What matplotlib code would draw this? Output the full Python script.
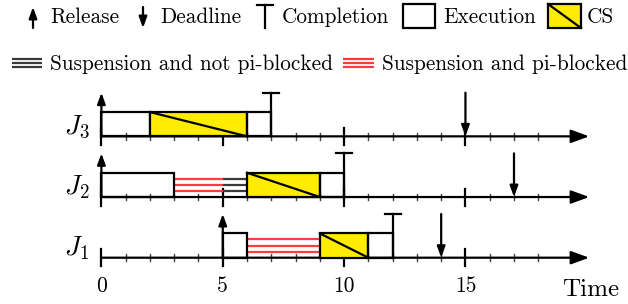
import matplotlib.pyplot as plt
from matplotlib.patches import Rectangle

plt.rcParams['mathtext.fontset'] = 'cm'
TEXT_FONT = ['cmr10', 'DejaVu Serif']

# ===== DATA =====
jobs = ['$J_1$', '$J_2$', '$J_3$']
release = [5, 0, 0]
deadline = [14, 17, 15]
completion = [12, 10, 7]
# (start, end, kind) per job
segments = [
    [(5, 6, 'exec'), (6, 9, 'susp_pi'), (9, 11, 'cs'), (11, 12, 'exec')],
    [(0, 3, 'exec'), (3, 5, 'susp_pi'), (5, 6, 'susp'), (6, 9, 'cs'), (9, 10, 'exec')],
    [(0, 2, 'exec'), (2, 6, 'cs'), (6, 7, 'exec')],
]
tick_times = list(range(19))
tick_labels = {0: '0', 5: '5', 10: '10', 15: '15'}

YELLOW = '#ffec00'
RED = '#ff3b3b'
DARK = '#3a3a3a'
LW = 1.6
FS = 15.3

# ===== FIGURE =====
fig = plt.figure(figsize=(6.28, 3.04), dpi=100)
u = 24.27  # pixels per time unit
ax = fig.add_axes([0, 0, 1, 1])
ax.set_xlim(-101.4 / u, (628 - 101.4) / u)
ax.set_ylim((257.7 - 304) / u, 257.7 / u)
ax.axis('off')

row_gap = 2.5
box_h = 1.0
arrow_h = 1.8


def arrow(a, x0, y0, x1, y1, scale=12, hl=0.55, hw=0.2, lw=LW):
    a.annotate('', xy=(x1, y1), xytext=(x0, y0),
               arrowprops=dict(arrowstyle=f'-|>,head_length={hl},head_width={hw}',
                               lw=lw, color='black', mutation_scale=scale,
                               shrinkA=0, shrinkB=0))


for i, job in enumerate(jobs):
    base = i * row_gap

    # time axis with ticks
    arrow(ax, 0, base, 20.1, base, scale=20, hl=0.55, hw=0.2)
    for t in tick_times:
        if t % 5 == 0:
            ax.plot([t, t], [base - 0.35, base + 0.35], color='black', lw=LW)
        else:
            ax.plot([t, t], [base - 0.14, base + 0.14], color='#444444', lw=1.0)

    # execution segments
    for s, e, kind in segments[i]:
        if kind == 'exec':
            ax.add_patch(Rectangle((s, base), e - s, box_h, facecolor='none',
                                   edgecolor='black', lw=LW, zorder=3))
        elif kind == 'cs':
            ax.add_patch(Rectangle((s, base), e - s, box_h, facecolor=YELLOW,
                                   edgecolor='black', lw=LW, zorder=3))
            ax.plot([s, e], [base + box_h, base], color='black', lw=LW, zorder=4)
        else:
            c = RED if kind == 'susp_pi' else DARK
            for f in (0.25, 0.5, 0.75):
                ax.plot([s, e], [base + f * box_h] * 2, color=c, lw=LW, zorder=2,
                        solid_capstyle='butt')

    # release, deadline, completion
    arrow(ax, release[i], base, release[i], base + arrow_h)
    arrow(ax, deadline[i], base + arrow_h, deadline[i], base)
    c = completion[i]
    ax.plot([c, c], [base, base + arrow_h], color='black', lw=LW, zorder=4)
    ax.plot([c - 0.33, c + 0.33], [base + arrow_h] * 2, color='black', lw=LW, zorder=4)

    ax.text(-0.5, base + 0.4, job, fontsize=19.5, ha='right', va='center')

for t, lab in tick_labels.items():
    ax.text(t, -1.4, lab, fontsize=15.5, ha='center', va='baseline', family=TEXT_FONT)
ax.text(19.0, -1.57, 'Time', fontsize=18, ha='left', va='baseline', family=TEXT_FONT)

# ===== LEGEND (pixel coordinates) =====
lg = fig.add_axes([0, 0, 1, 1])
lg.set_xlim(0, 628)
lg.set_ylim(304, 0)
lg.axis('off')
lg.patch.set_alpha(0)

arrow(lg, 33, 28, 33, 7)
lg.text(50, 23, 'Release', fontsize=FS, va='baseline', family=TEXT_FONT)
arrow(lg, 143, 7, 143, 28)
lg.text(160, 23, 'Deadline', fontsize=FS, va='baseline', family=TEXT_FONT)
lg.plot([265, 265], [28, 5], color='black', lw=LW)
lg.plot([257, 273], [5, 5], color='black', lw=LW)
lg.text(282, 23, 'Completion', fontsize=FS, va='baseline', family=TEXT_FONT)
lg.add_patch(Rectangle((403, 4), 32, 24, facecolor='none', edgecolor='black', lw=LW))
lg.text(443, 23, 'Execution', fontsize=FS, va='baseline', family=TEXT_FONT)
lg.add_patch(Rectangle((548, 4), 33, 24, facecolor=YELLOW, edgecolor='black', lw=LW))
lg.plot([548, 581], [4, 28], color='black', lw=LW)
lg.text(587, 23, 'CS', fontsize=FS, va='baseline', family=TEXT_FONT)

for yy in (58.5, 62.7, 67):
    lg.plot([12, 42], [yy, yy], color=DARK, lw=LW, solid_capstyle='butt')
    lg.plot([343, 374], [yy, yy], color=RED, lw=LW, solid_capstyle='butt')
lg.text(50, 70, 'Suspension and not pi-blocked', fontsize=FS, va='baseline', family=TEXT_FONT)
lg.text(382, 70, 'Suspension and pi-blocked', fontsize=FS, va='baseline', family=TEXT_FONT)

fig.savefig('out.png', dpi=100)
